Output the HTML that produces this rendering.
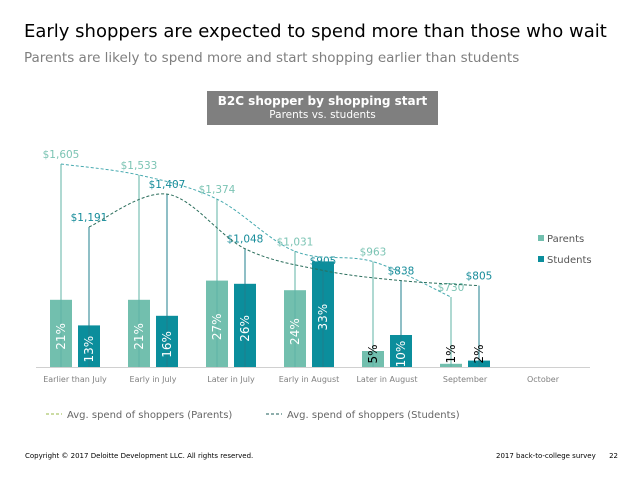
<!DOCTYPE html>
<html><head><meta charset="utf-8"><style>
body{margin:0;width:638px;height:479px;background:#fff;font-family:"DejaVu Sans","Liberation Sans",sans-serif;overflow:hidden;position:relative}
.t{position:absolute;white-space:nowrap}
</style></head><body>
<div class="t" style="left:24px;top:21px;font-size:18px;color:#000">Early shoppers are expected to spend more than those who wait</div>
<div class="t" style="left:24px;top:50px;font-size:13.5px;color:#7f7f7f">Parents are likely to spend more and start shopping earlier than students</div>
<div style="position:absolute;left:207px;top:91px;width:231px;height:34px;background:#7f7f7f;color:#fff;text-align:center">
<div style="font-size:12px;font-weight:bold;margin-top:3px">B2C shopper by shopping start</div>
<div style="font-size:10.5px;margin-top:1px">Parents vs. students</div></div>
<svg id="c" width="638" height="479" style="position:absolute;left:0;top:0"></svg>
<div class="t" style="left:25px;top:452px;font-size:7px;color:#000">Copyright © 2017 Deloitte Development LLC. All rights reserved.</div>
<div class="t" style="left:496px;top:452px;font-size:7px;color:#000">2017 back-to-college survey &nbsp;&nbsp;&nbsp;&nbsp; 22</div>
<script>
const categories=["Earlier than July","Early in July","Later in July","Early in August","Later in August","September","October"];
const parentsPct=[21,21,27,24,5,1,null];
const studentsPct=[13,16,26,33,10,2,null];
const parentsSpend=[1605,1533,1374,1031,963,730,null];
const studentsSpend=[1191,1407,1048,905,838,805,null];
const parentsSpendLabels=["$1,605","$1,533","$1,374","$1,031","$963","$730"];
const studentsSpendLabels=["$1,191","$1,407","$1,048","$905","$838","$805"];
const NS="http://www.w3.org/2000/svg";
const svg=document.getElementById('c');
const base=367,gx0=50,gstep=78,bw=22;
const pctY=p=>base-p*3.2;
const spendY=v=>408-v*0.152;
const PC="#72bfae",SC="#0b8e9c";
function mk(t,a){const e=document.createElementNS(NS,t);for(const k in a)e.setAttribute(k,a[k]);svg.appendChild(e);return e;}
const ax=mk('line',{x1:36,x2:590,y1:base+0.5,y2:base+0.5,stroke:'#d0d0d0','stroke-width':1});


function smooth(pts){let d=`M${pts[0][0]},${pts[0][1]}`;for(let i=0;i<pts.length-1;i++){const p0=pts[i-1]||pts[i],p1=pts[i],p2=pts[i+1],p3=pts[i+2]||p2;const c1=[p1[0]+(p2[0]-p0[0])/6,p1[1]+(p2[1]-p0[1])/6],c2=[p2[0]-(p3[0]-p1[0])/6,p2[1]-(p3[1]-p1[1])/6];d+=` C${c1[0]},${c1[1]} ${c2[0]},${c2[1]} ${p2[0]},${p2[1]}`;}return d;}
const pPts=[],sPts=[];
categories.forEach((c,i)=>{
  const x=gx0+i*gstep;
  const lab=mk('text',{x:x+25,y:base+15,'font-size':8,fill:'#808080','text-anchor':'middle'});lab.textContent=c;
  
  
  [[parentsPct,parentsSpend,parentsSpendLabels,PC,x,'parents',pPts,'#7cc4b4'],[studentsPct,studentsSpend,studentsSpendLabels,SC,x+28,'students',sPts,'#178c9a']].forEach(([pa,sa,la,col,bx,nm,pts,tc])=>{
    if(pa[i]==null)return;
    const top=pctY(pa[i]);
    const r=mk('rect',{x:bx,y:top,width:bw,height:base-top,fill:col});
    
    
    const cx=bx+bw/2,sy=spendY(sa[i]);
    const ln=mk('line',{x1:cx,x2:cx,y1:sy,y2:base,stroke:nm=='parents'?'#5fb3a6':'#1f7f8c','stroke-width':1});
    
    
    pts.push([cx,sy]);
    const st=mk('text',{x:cx,y:sy-6,'font-size':10.5,fill:tc,'text-anchor':'middle'});st.textContent=la[i];
    
    
    const small=pa[i]<8;
    const ty=Math.min((top+base)/2+3,base-13);
    const pt=mk('text',{x:cx+4,y:ty,'font-size':12,'text-anchor':'middle',fill:small?'#000':'#fff',transform:`rotate(-90 ${cx+4} ${ty})`});pt.textContent=pa[i]+'%';
    
    
  });
});
const pl=mk('path',{d:smooth(pPts),fill:'none',stroke:'#48aab0','stroke-width':1,'stroke-dasharray':'3,2'});


const sl=mk('path',{d:smooth(sPts),fill:'none',stroke:'#2b6e5c','stroke-width':1,'stroke-dasharray':'3,2'});


[['Parents',PC,239],['Students',SC,260]].forEach(([t,c,y])=>{
  const s=mk('rect',{x:538,y:y-4,width:6,height:6,fill:c});
  
  
  const tx=mk('text',{x:547,y:y+3,'font-size':10,fill:'#555'});tx.textContent=t;
  
  
});
[['Avg. spend of shoppers (Parents)','#9ab84a',46],['Avg. spend of shoppers (Students)','#1e5e58',266]].forEach(([t,c,x],k)=>{
  const l=mk('line',{x1:x,x2:x+16,y1:414,y2:414,stroke:c,'stroke-width':1,'stroke-dasharray':'3,2'});
  
  
  const tx=mk('text',{x:x+21,y:418,'font-size':10,fill:'#666'});tx.textContent=t;
  
  
});
</script>
</body></html>
